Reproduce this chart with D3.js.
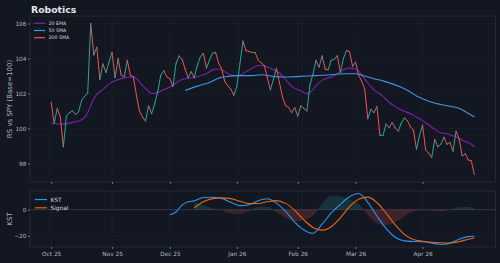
<!DOCTYPE html>
<html>
<head>
<meta charset="utf-8">
<script src="https://cdn.jsdelivr.net/npm/d3@7"></script>
<style>
  body { margin: 0; background: #131722; }
  svg { display: block; }
  text { font-family: "DejaVu Sans", sans-serif; }
</style>
</head>
<body>
<svg></svg>
<script>
// x axis: trading-day index, month ticks
const tickIdx = [0, 20, 39, 61, 81, 100, 122];
const tickLabels = ["Oct 25", "Nov 25", "Dec 25", "Jan 26", "Feb 26", "Mar 26", "Apr 26"];

// relative strength vs SPY, one value per trading day
const price = [
  101.5, 100.3, 101.15, 100.65, 98.95, 100.7, 100.9, 101.0, 100.8, 100.95,
  101.6, 101.85, 102.0, 106.0, 104.2, 104.65, 102.8, 103.7, 103.2, 103.8,
  104.35, 102.9, 104.0, 103.05, 102.95, 103.9, 103.05, 102.95, 101.9, 101.0,
  100.65, 100.42, 101.3, 100.84, 101.4, 102.1, 103.05, 103.3, 102.95, 102.85,
  102.4, 103.7, 104.15, 103.95, 103.4, 102.9, 103.25, 102.9, 103.6, 104.1,
  104.3, 103.45, 103.9, 104.3, 104.35, 103.75, 103.4, 102.7, 102.45, 102.25,
  101.9, 102.4, 103.7, 105.0, 104.45, 104.4, 104.35, 104.35, 103.9, 103.75,
  103.6, 102.9, 102.2, 102.8, 103.45, 102.6, 101.8, 101.3, 101.2, 100.9,
  101.2, 100.7, 101.3, 101.15, 101.0, 102.5, 103.1, 103.9, 103.5, 104.15,
  103.4, 103.35, 103.9, 103.95, 104.17, 103.2, 104.0, 104.46, 104.4, 103.55,
  103.8, 103.05, 102.7, 102.25, 100.55, 101.1, 100.9, 101.25, 99.6, 99.6,
  100.25, 100.04, 100.33, 100.04, 99.85, 100.3, 100.6, 100.45, 100.1, 99.9,
  98.81, 99.6, 100.2, 98.76, 98.6, 98.34, 99.38, 98.95, 99.1, 99.5,
  99.1, 99.2, 98.7, 99.85, 99.4, 98.43, 98.55, 98.2, 98.15, 97.37
];

// 20 EMA, read at these day indices
const emaIdx = [0, 4, 7, 10, 11, 12, 13, 14, 15, 17, 19, 21, 23, 25, 27, 28, 30, 32, 33, 35,
  37, 39, 41, 43, 46, 49, 51, 53, 55, 57, 60, 62, 64, 66, 68, 70, 73, 75, 77, 79,
  82, 84, 86, 87, 89, 92, 94, 96, 98, 100, 102, 104, 106, 109, 111, 113, 115, 118, 120, 122,
  124, 126, 128, 130, 132, 134, 136, 138, 139];
const emaVals = [100.3, 100.25, 100.35, 100.5, 100.62, 100.9, 101.3, 101.7, 101.95, 102.22,
  102.55, 102.73, 102.85, 102.93, 102.95, 102.85, 102.45, 102.13, 102.0, 102.05,
  102.22, 102.37, 102.6, 102.8, 102.89, 103.02, 103.13, 103.35, 103.4, 103.25,
  103.02, 103.05, 103.25, 103.45, 103.6, 103.57, 103.36, 103.17, 102.8, 102.41,
  102.15, 101.99, 102.22, 102.45, 102.75, 102.94, 103.13, 103.36, 103.45, 103.4,
  103.07, 102.6, 102.22, 101.84, 101.5, 101.25, 101.05, 100.85, 100.65, 100.45,
  100.2, 99.95, 99.76, 99.7, 99.58, 99.44, 99.25, 99.1, 98.95];

// 50 SMA
const smaIdx = [44, 48, 52, 55, 58, 61, 66, 69, 74, 78, 82, 87, 92, 96, 100, 103, 106, 109,
  112, 115, 118, 120, 122, 125, 128, 131, 134, 136, 139];
const smaVals = [102.17, 102.42, 102.63, 102.88, 102.98, 103.02, 103.02, 103.07, 102.95,
  102.94, 102.98, 103.02, 103.07, 103.13, 103.13, 103.0, 102.84, 102.72, 102.55, 102.35,
  102.08, 101.86, 101.7, 101.5, 101.37, 101.27, 101.15, 100.97, 100.65];

// KST and signal
const kstIdx = [39, 41, 43, 45, 47, 50, 53, 56, 59, 62, 65, 68, 71, 74, 77, 80, 83, 86, 89, 92,
  95, 98, 101, 104, 107, 110, 113, 116, 119, 122, 125, 128, 131, 134, 137, 139];
const kstVals = [-3.9, -1.8, 3.5, 6.0, 6.7, 9.3, 9.5, 8.6, 5.6, 3.1, 3.8, 6.8, 8.3, 5.0, -1.2,
  -9.5, -15.5, -18.0, -11.0, -2.5, 4.1, 9.8, 12.3, 5.6, -4.8, -14.2, -21.0, -23.8, -24.2,
  -24.4, -25.5, -26.5, -25.5, -22.5, -20.5, -20.2];
const sigIdx = kstIdx.slice(4);
const sigVals = [1.3, 6.0, 8.4, 9.0, 8.4, 6.4, 4.6, 4.7, 6.0, 6.9, 4.8, -0.5, -7.8, -13.5,
  -15.6, -13.0, -6.2, 2.3, 8.0, 9.6, 5.5, -2.6, -11.5, -18.8, -22.8, -24.0, -24.8, -25.2,
  -25.4, -24.4, -22.6, -21.6];

const W = 500, H = 263;
const L = 30, R = 495.5;
const mainTop = 16, mainBot = 182, kTop = 191, kBot = 247;
const bg = "#131722", frameCol = "#2a2e39", gridCol = "#1d212c", tickCol = "#b2b5be";
const up = "#26a69a", down = "#ef5350";

const svg = d3.select("svg").attr("width", W).attr("height", H);
svg.append("rect").attr("width", W).attr("height", H).attr("fill", bg);

const n = price.length;
const xpad = (n - 1) * 0.05;
const x = d3.scaleLinear().domain([-xpad, n - 1 + xpad]).range([L, R]);

const pExt = d3.extent(price);
const pPad = (pExt[1] - pExt[0]) * 0.05;
const y = d3.scaleLinear().domain([pExt[0] - pPad, pExt[1] + pPad]).range([mainBot, mainTop]);

const kExt = d3.extent(kstVals.concat(sigVals));
const kPad = (kExt[1] - kExt[0]) * 0.05;
const yk = d3.scaleLinear().domain([kExt[0] - kPad, kExt[1] + kPad]).range([kBot, kTop]);

// grid lines
function grid(top, bot, ys, yTicks) {
  const g = svg.append("g");
  g.selectAll("line.v").data(tickIdx).enter().append("line")
    .attr("x1", d => x(d)).attr("x2", d => x(d)).attr("y1", top).attr("y2", bot)
    .attr("stroke", gridCol).attr("stroke-width", 0.6);
  g.selectAll("line.h").data(yTicks).enter().append("line")
    .attr("x1", L).attr("x2", R).attr("y1", d => ys(d)).attr("y2", d => ys(d))
    .attr("stroke", gridCol).attr("stroke-width", 0.6);
}
grid(mainTop, mainBot, y, [98, 100, 102, 104, 106]);
grid(kTop, kBot, yk, [-20, 0]);

// zero line
svg.append("line").attr("x1", L).attr("x2", R).attr("y1", yk(0)).attr("y2", yk(0))
  .attr("stroke", "#3a3e4a").attr("stroke-width", 0.8);

// histogram (KST - signal)
const hist = sigIdx.map((d, k) => [d, kstVals[k + 4] - sigVals[k]]);
const defs = svg.append("defs");
defs.append("clipPath").attr("id", "pos").append("rect")
  .attr("x", L).attr("y", kTop).attr("width", R - L).attr("height", yk(0) - kTop);
defs.append("clipPath").attr("id", "neg").append("rect")
  .attr("x", L).attr("y", yk(0)).attr("width", R - L).attr("height", kBot - yk(0));
const harea = d3.area().curve(d3.curveMonotoneX)
  .x(d => x(d[0])).y0(yk(0)).y1(d => yk(d[1]));
svg.append("path").attr("d", harea(hist)).attr("fill", up).attr("fill-opacity", 0.2)
  .attr("clip-path", "url(#pos)");
svg.append("path").attr("d", harea(hist)).attr("fill", down).attr("fill-opacity", 0.2)
  .attr("clip-path", "url(#neg)");

// moving averages
const smooth = (ys) => d3.line().curve(d3.curveMonotoneX).x(d => x(d[0])).y(d => ys(d[1]));
svg.append("path").attr("d", smooth(y)(emaIdx.map((d, i) => [d, emaVals[i]])))
  .attr("fill", "none").attr("stroke", "#7e22a8").attr("stroke-width", 1.1);
svg.append("path").attr("d", smooth(y)(smaIdx.map((d, i) => [d, smaVals[i]])))
  .attr("fill", "none").attr("stroke", "#3d95e0").attr("stroke-width", 1.1);

// price, coloured by direction
const seg = d3.line().x(d => x(d[0])).y(d => y(d[1]));
svg.append("g").selectAll("path")
  .data(d3.pairs(price.map((v, i) => [i, v])))
  .enter().append("path")
  .attr("d", d => seg(d))
  .attr("fill", "none")
  .attr("stroke", d => d[1][1] >= d[0][1] ? up : down)
  .attr("stroke-width", 1)
  .attr("stroke-linecap", "round");

// KST lines
svg.append("path").attr("d", smooth(yk)(kstIdx.map((d, i) => [d, kstVals[i]])))
  .attr("fill", "none").attr("stroke", "#2196f3").attr("stroke-width", 1.1);
svg.append("path").attr("d", smooth(yk)(sigIdx.map((d, i) => [d, sigVals[i]])))
  .attr("fill", "none").attr("stroke", "#e8650f").attr("stroke-width", 1.1);

// frames
[[mainTop, mainBot], [kTop, kBot]].forEach(([t, b]) => {
  svg.append("rect").attr("x", L).attr("y", t).attr("width", R - L).attr("height", b - t)
    .attr("fill", "none").attr("stroke", frameCol).attr("stroke-width", 0.8);
});

// axes
function styleAxis(g) {
  g.select(".domain").remove();
  g.selectAll("line").attr("stroke", tickCol).attr("stroke-width", 0.6);
  g.selectAll("text").attr("fill", tickCol).attr("font-size", 5.8)
    .attr("font-family", "DejaVu Sans");
}
svg.append("g").attr("transform", `translate(${L},0)`)
  .call(d3.axisLeft(y).tickValues([98, 100, 102, 104, 106]).tickSize(2).tickPadding(1.5))
  .call(styleAxis);
svg.append("g").attr("transform", `translate(${L},0)`)
  .call(d3.axisLeft(yk).tickValues([-20, 0]).tickSize(2).tickPadding(1.5))
  .call(styleAxis);
svg.append("g").attr("transform", `translate(0,${mainBot})`)
  .call(d3.axisBottom(x).tickValues(tickIdx).tickSize(2).tickFormat(""))
  .call(styleAxis);
svg.append("g").attr("transform", `translate(0,${kBot})`)
  .call(d3.axisBottom(x).tickValues(tickIdx).tickSize(2).tickPadding(2.5)
    .tickFormat((d, i) => tickLabels[i]))
  .call(styleAxis);

// axis titles
svg.append("text").attr("transform", `translate(11.5,${(mainTop + mainBot) / 2}) rotate(-90)`)
  .attr("text-anchor", "middle").attr("font-size", 7).attr("fill", tickCol)
  .text("RS vs SPY (Base=100)");
svg.append("text").attr("transform", `translate(11.5,${(kTop + kBot) / 2}) rotate(-90)`)
  .attr("text-anchor", "middle").attr("font-size", 7).attr("fill", tickCol)
  .text("KST");

// title
svg.append("text").attr("x", 31).attr("y", 12.6).attr("font-size", 9.3)
  .attr("font-weight", "bold").attr("fill", "#e6e8ee").text("Robotics");

// legends
function legend(items, x0, y0, dy, fs, len) {
  const g = svg.append("g");
  items.forEach((it, i) => {
    const yy = y0 + i * dy;
    g.append("line").attr("x1", x0).attr("x2", x0 + len).attr("y1", yy).attr("y2", yy)
      .attr("stroke", it[1]).attr("stroke-width", 1.2);
    g.append("text").attr("x", x0 + len + 3.5).attr("y", yy).attr("dy", "0.35em")
      .attr("font-size", fs).attr("fill", "#d1d4dc").text(it[0]);
  });
}
legend([["20 EMA", "#7e22a8"], ["50 SMA", "#3d95e0"], ["200 SMA", down]], 34, 23.3, 7.2, 4.7, 11);
legend([["KST", "#2196f3"], ["Signal", "#e8650f"]], 35, 199.5, 8.3, 5.8, 12);
</script>
</body>
</html>
